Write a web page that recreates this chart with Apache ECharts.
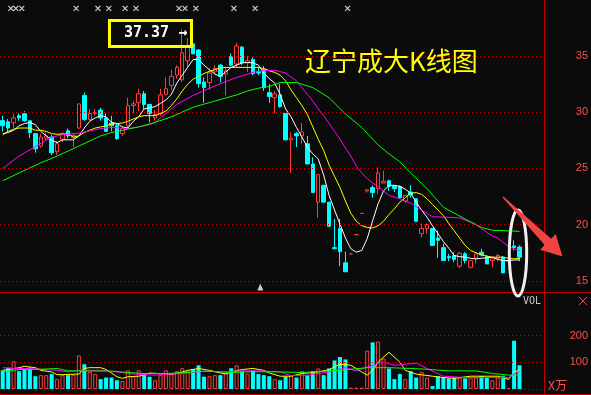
<!DOCTYPE html>
<html>
<head>
<meta charset="utf-8">
<script src="https://cdn.jsdelivr.net/npm/echarts@6/dist/echarts.min.js"></script>
<style>
html,body{margin:0;padding:0;background:#0b0b0b;}
#main{width:591px;height:395px;}
</style>
</head>
<body>
<div id="main"></div>
<script>
// day slots (96 trading days drawn, 4 empty at the right)
const days = [];
for (let i = 0; i < 100; i++) days.push('D' + (i + 1));

// [open, close, low, high]
const kData = [
  [29.26,28.8,28.3,29.7],[29.15,28.6,28.2,29.4],[29.07,29.5,28.6,29.87],[29.7,29.5,29.25,29.9],[29.87,29.25,29.15,30.1],
  [29.25,28.2,27.7,29.25],[28.1,26.75,26.4,28.1],[27.0,27.8,26.85,28.1],[27.7,27.9,27.45,28.2],[27.8,26.4,26.2,28.0],
  [26.5,27.2,26.2,27.45],[27.6,28.1,27.35,28.2],[28.35,27.9,27.7,28.55],[27.75,27.95,26.9,28.1],[28.6,30.75,28.5,30.75],
  [31.5,29.35,29.25,31.75],[29.35,29.9,29.25,30.3],[29.9,30.0,29.7,30.3],[30.2,29.5,29.25,30.4],[29.5,28.3,28.3,29.9],
  [29.05,28.8,28.3,29.7],[28.8,27.65,27.55,29.0],[28.1,28.55,27.9,28.7],[28.8,30.6,28.6,31.3],[30.6,30.75,29.9,31.0],
  [30.85,31.65,30.1,32.1],[31.65,30.7,30.3,31.9],[30.7,29.9,29.1,30.75],[29.5,29.8,29.25,30.2],[29.9,31.55,29.7,32.1],
  [31.6,32.1,31.5,33.1],[32.4,33.2,32.0,33.8],[33.3,34.0,33.0,34.2],[32.9,35.3,32.7,37.37],[34.6,35.9,34.0,36.6],
  [36.1,35.2,35.2,36.6],[35.55,32.55,32.2,35.6],[32.7,32.2,30.85,33.1],[32.65,33.5,32.0,33.9],[33.6,33.9,33.4,34.2],
  [34.2,33.2,32.65,34.3],[33.4,33.7,31.5,34.0],[34.95,34.2,34.1,35.25],[34.3,35.9,34.0,36.2],[35.8,34.4,34.2,35.9],
  [34.4,34.6,33.6,35.0],[34.7,33.45,33.3,34.9],[33.65,33.5,33.3,34.0],[33.8,32.2,31.9,34.1],[31.75,31.4,30.85,32.5],
  [31.3,31.65,29.9,31.9],[31.55,30.5,30.4,32.5],[29.9,27.55,27.5,29.9],[27.55,27.7,24.6,28.2],[28.1,27.9,26.9,28.25],
  [27.9,28.25,27.2,29.05],[27.2,25.4,25.4,27.9],[25.4,22.85,22.85,26.0],[22.0,24.45,20.6,24.45],[23.5,22.0,22.0,23.5],
  [22.0,19.85,19.85,22.0],[17.95,17.85,17.85,20.5],[19.65,17.6,16.3,20.5],[16.6,15.8,15.8,17.6],[17.4,17.4,17.4,17.4],
  [19.1,19.1,19.1,19.1],[21.0,21.0,21.0,21.0],[23.0,23.1,22.85,23.1],[23.3,22.85,22.4,23.5],[23.2,24.6,22.75,25.1],
  [23.7,23.85,23.7,24.8],[23.9,23.4,23.0,24.0],[23.4,23.2,22.9,23.5],[23.4,22.4,22.3,23.5],[22.1,22.6,21.9,22.6],
  [22.9,22.65,22.4,23.5],[22.3,20.3,20.3,22.3],[19.2,19.65,18.85,20.1],[19.65,20.0,19.2,20.1],[19.65,18.15,18.15,19.65],
  [18.8,18.6,17.05,19.45],[17.95,16.8,16.8,18.3],[17.15,17.05,16.75,17.4],[17.25,16.9,16.65,17.55],[16.3,17.45,16.15,17.55],
  [17.4,16.8,16.55,17.55],[16.2,16.8,16.1,16.85],[17.0,17.4,16.55,17.55],[17.55,17.3,17.15,17.85],[17.15,16.5,16.5,17.25],
  [16.8,17.0,16.2,17.05],[17.0,17.25,16.75,17.4],[17.1,15.7,15.7,17.2],[16.7,16.8,16.6,16.9],[18.1,17.95,17.7,18.6],
  [18.0,17.1,16.75,18.15]
];

// volume, 万手
const volumes = [
  70,80,104,67,73,80,48,52,52,56, 37,52,52,54,126,93,64,56,37,43,
  43,33,30,70,48,70,56,46,33,52, 70,56,67,78,68,74,89,46,48,52,
  52,60,78,89,67,58,70,56,52,48, 37,33,46,52,43,67,52,67,77,52,
  77,107,120,111,5,5,5,144,175,178, 114,77,37,56,37,67,43,64,43,11,
  48,43,40,43,43,40,43,43,49,43, 33,43,48,4,181,89
];

// price moving averages
const ma5 = [
  28.1,28.2,28.4,28.8,29.0,29.1,28.9,28.3,27.9,27.5, 27.3,27.55,27.55,27.55,27.9,28.6,29.2,29.5,29.7,29.6,
  29.1,29.0,28.7,28.6,29.2,29.6,30.3,30.4,30.5,30.8, 31.1,31.6,32.6,33.3,34.0,34.7,34.7,34.2,33.8,33.4,
  33.2,33.6,34.0,34.2,34.4,34.45,34.4,34.2,33.5,33.0, 32.6,31.6,30.3,29.6,28.65,27.8,26.9,26.3,25.85,24.4,
  22.6,21.3,20.05,18.8,17.85,17.55,17.7,18.75,20.35,21.85, 23.0,23.5,23.5,23.4,23.15,22.8,22.0,21.3,20.65,19.9,
  19.2,18.5,17.9,17.25,17.15,17.1,17.0,16.95,17.0,17.05, 17.1,16.9,16.8,16.8,16.85,16.85
];
const ma10 = [
  28.0,28.3,28.5,28.6,28.6,28.6,28.4,28.4,28.3,28.1, 28.05,28.05,28.1,27.8,27.9,28.2,28.4,28.6,28.7,28.8,
  28.95,29.0,29.05,29.2,29.4,29.6,29.7,29.7,29.7,29.9, 30.1,30.6,31.2,31.9,32.5,32.95,33.2,33.45,33.65,33.8,
  33.95,34.0,34.0,34.0,34.0,34.0,34.0,34.0,33.9,33.7, 33.55,33.3,32.8,32.0,31.3,30.6,29.8,28.7,27.6,26.6,
  25.3,24.3,23.3,22.1,21.0,20.3,19.9,19.75,19.7,19.9, 20.3,20.9,21.4,22.0,22.4,22.8,22.85,22.7,22.3,21.8,
  21.3,20.8,20.1,19.45,18.8,18.15,17.7,17.5,17.3,17.2, 17.1,17.1,17.1,17.0,16.95,17.0
];
// [day index, value]
const ma20 = [
  [0,25.0],[3,26.1],[6,26.95],[9,27.8],[11,28.0],[14,28.15],[16,28.35],[18,28.55],[20,28.65],[23,28.55],
  [25,28.7],[27,28.9],[28,29.1],[30,29.9],[32,30.7],[35,31.5],[39,32.35],[43,33.1],[46,33.55],[48,33.7],
  [50,33.75],[52,33.5],[54,32.8],[56,31.6],[57,31.0],[58,30.3],[59,29.7],[60,29.0],[61,28.3],[62,27.6],
  [63,26.8],[64,26.1],[65,25.2],[66,24.6],[67,24.1],[68,23.7],[69,23.4],[70,23.0],[71,22.6],[73,22.3],
  [75,21.9],[77,21.3],[79,20.7],[82,20.65],[84,20.6],[86,20.2],[87,20.0],[89,19.3],[90,19.0],[91,18.8],
  [92,18.4],[93,18.05],[94,17.85],[95,17.7]
];
const ma60 = [
  [0,23.9],[3,24.6],[7,25.5],[10,26.1],[14,27.0],[18,27.9],[20,28.2],[23,28.5],[25,28.7],[28,29.1],
  [31,29.6],[35,30.45],[39,31.0],[43,31.55],[45,31.9],[47,32.15],[49,32.3],[51,32.65],[54,32.65],[57,32.2],
  [60,31.3],[63,29.85],[66,28.65],[69,27.1],[71,26.3],[73,25.6],[75,24.6],[78,23.2],[81,21.55],[85,20.5],
  [88,19.75],[90,19.5],[95,19.4]
];

// volume moving averages
const volMa5 = [
  [0,70],[3,80],[4,85],[6,80],[7,70],[9,64],[10,54],[11,54],[14,56],[15,77],[16,80],[18,80],[19,73],[20,60],
  [21,46],[22,40],[23,46],[25,48],[27,60],[30,56],[31,54],[33,64],[34,70],[36,77],[38,70],[40,60],[41,56],
  [42,64],[44,73],[46,77],[48,70],[49,60],[51,48],[53,48],[55,58],[58,64],[60,73],[62,93],[64,89],[66,64],
  [67,52],[68,70],[69,101],[71,138],[73,101],[74,70],[76,56],[79,48],[81,43],[83,40],[86,48],[88,48],[91,48],
  [93,36],[94,64],[95,70]
];
const volMa10 = [
  [0,80],[2,77],[5,77],[7,74],[10,70],[12,64],[14,70],[18,70],[21,64],[24,56],[28,52],[31,56],[34,60],[37,67],
  [41,64],[44,68],[47,68],[51,64],[53,50],[56,52],[60,64],[63,80],[65,68],[67,83],[70,101],[72,89],[76,97],
  [78,77],[81,48],[85,43],[90,43],[93,43],[94,58],[95,65]
];
const volMa20 = [
  [0,64],[3,73],[7,74],[10,77],[12,68],[14,68],[20,67],[23,62],[26,58],[30,58],[34,62],[37,67],[42,62],[46,65],
  [51,64],[55,62],[57,64],[62,70],[67,80],[71,80],[75,77],[78,74],[82,68],[87,68],[90,58],[93,52],[95,52]
];

const priceTicks = [15, 20, 25, 30, 35];
const volTicks = [100, 200];
// event markers along the top (in day units)
const eventMarks = [-0.7, 1.5, 2.4, 3.5, 13.5, 17.5, 19.5, 22.5, 24.5, 32.4, 33.5, 35.5, 42.5, 46.4, 63.4];
const lowFlag = [[47.35, 14.45]];

const BG = '#0b0b0b';
const RED = '#ff3c3c';
const CYAN = '#00ffff';
const GRID_RED = '#c00000';

function isUp(i) {
  const k = kData[i];
  if (k[1] !== k[0]) return k[1] > k[0];
  return i > 0 ? k[1] >= kData[i - 1][1] : true;
}

const volData = volumes.map(function (v, i) {
  return {
    value: v,
    itemStyle: isUp(i)
      ? { color: BG, borderColor: RED, borderWidth: 1 }
      : { color: CYAN, borderColor: CYAN, borderWidth: 0 }
  };
});

const axisText = { color: '#ff4d4d', fontSize: 11, fontFamily: 'Liberation Sans', align: 'right', margin: 44 };
const dotted = { color: GRID_RED, type: [1, 3], width: 1 };

function maLine(name, data, color, xi, yi) {
  return {
    name: name, type: 'line', data: data, xAxisIndex: xi, yAxisIndex: yi,
    showSymbol: false, symbol: 'none', connectNulls: true, silent: true,
    lineStyle: { color: color, width: 1 }
  };
}

const chart = echarts.init(document.getElementById('main'));
chart.setOption({
  animation: false,
  backgroundColor: BG,
  grid: [
    { left: 0, top: 0, width: 544, height: 292 },
    { left: 0, top: 292, width: 544, height: 97 }
  ],
  xAxis: [
    { type: 'category', gridIndex: 0, data: days, boundaryGap: true, show: false },
    { type: 'value', gridIndex: 0, min: -0.5, max: 99.5, show: false },
    { type: 'category', gridIndex: 1, data: days, boundaryGap: true, show: false }
  ],
  yAxis: [
    {
      type: 'value', gridIndex: 0, min: 14, max: 40, position: 'right',
      axisLine: { show: false }, axisTick: { show: false }, splitLine: { show: false },
      axisLabel: Object.assign({ customValues: priceTicks }, axisText)
    },
    {
      type: 'value', gridIndex: 1, min: 0, max: 364, position: 'right',
      axisLine: { show: false }, axisTick: { show: false }, splitLine: { show: false },
      axisLabel: Object.assign({ customValues: volTicks }, axisText)
    }
  ],
  series: [
    {
      type: 'candlestick', data: kData, xAxisIndex: 0, yAxisIndex: 0,
      barWidth: 4,
      itemStyle: { color: BG, color0: CYAN, borderColor: RED, borderColor0: CYAN, borderWidth: 1 },
      markLine: {
        silent: true, symbol: ['none', 'none'], label: { show: false },
        lineStyle: dotted,
        data: priceTicks.map(function (v) { return { yAxis: v }; })
      }
    },
    maLine('MA5', ma5, '#ffffff', 0, 0),
    maLine('MA10', ma10, '#ffff00', 0, 0),
    maLine('MA20', ma20, '#ff00ff', 0, 0),
    maLine('MA60', ma60, '#00ff00', 0, 0),
    {
      type: 'scatter', data: eventMarks.map(function (x) { return [x, 39.25]; }),
      xAxisIndex: 1, yAxisIndex: 0, silent: true,
      symbol: 'path://M0 0L10 10M10 0L0 10', symbolSize: 5,
      itemStyle: { color: 'none', borderColor: '#ffffff', borderWidth: 1.2 }
    },
    {
      type: 'scatter', data: lowFlag, xAxisIndex: 1, yAxisIndex: 0, silent: true,
      symbol: 'triangle', symbolSize: [6, 7], itemStyle: { color: '#ffffff' }
    },
    {
      type: 'bar', data: volData, xAxisIndex: 2, yAxisIndex: 1, barWidth: 4, silent: true,
      markLine: {
        silent: true, symbol: ['none', 'none'], label: { show: false },
        lineStyle: dotted,
        data: [0].concat(volTicks).map(function (v) { return { yAxis: v }; })
      }
    },
    maLine('VMA5', volMa5, '#ffff00', 2, 1),
    maLine('VMA10', volMa10, '#ff00ff', 2, 1),
    maLine('VMA20', volMa20, '#00ff00', 2, 1)
  ],
  graphic: [
    { type: 'line', silent: true, z: 50, shape: { x1: 0, y1: 292.5, x2: 591, y2: 292.5 }, style: { stroke: GRID_RED, lineWidth: 1 } },
    { type: 'line', silent: true, z: 50, shape: { x1: 0, y1: 394.5, x2: 591, y2: 394.5 }, style: { stroke: GRID_RED, lineWidth: 1 } },
    { type: 'line', silent: true, z: 50, shape: { x1: 544.5, y1: 0, x2: 544.5, y2: 395 }, style: { stroke: GRID_RED, lineWidth: 1 } },
    { type: 'rect', silent: true, z: 60, shape: { x: 109.5, y: 20.5, width: 82, height: 26 }, style: { fill: 'none', stroke: '#ffff00', lineWidth: 3 } },
    { type: 'text', silent: true, z: 60, x: 124, y: 33, style: { text: '37.37 →', fill: '#ffffff', font: 'bold 15px "DejaVu Sans Mono"', verticalAlign: 'middle' } },
    { type: 'text', silent: true, z: 60, x: 305, y: 61, style: { text: '辽宁成大K线图', fill: '#ffff00', font: '26px "Noto Sans CJK SC"', verticalAlign: 'middle' } },
    { type: 'ellipse', silent: true, z: 60, shape: { cx: 518, cy: 253, rx: 8.7, ry: 43 }, style: { fill: 'none', stroke: '#f0f0f0', lineWidth: 3 } },
    { type: 'polygon', silent: true, z: 60, shape: { points: [[502.6, 197.4], [544.7, 245.1], [540.1, 249.7], [562.5, 256.5], [555.7, 234.1], [551.1, 238.7], [503.4, 196.6]] }, style: { fill: '#f04444' } },
    { type: 'text', silent: true, z: 60, x: 523, y: 301, style: { text: 'VOL', fill: '#c8c8c8', font: '10px "DejaVu Sans Mono"', verticalAlign: 'middle' } },
    { type: 'line', silent: true, z: 60, shape: { x1: 579, y1: 297, x2: 587, y2: 305 }, style: { stroke: '#ff3c3c', lineWidth: 1 } },
    { type: 'line', silent: true, z: 60, shape: { x1: 587, y1: 297, x2: 579, y2: 305 }, style: { stroke: '#ff3c3c', lineWidth: 1 } },
    { type: 'text', silent: true, z: 60, x: 548, y: 385, style: { text: 'X万', fill: '#ff4d4d', font: '12px "Noto Sans CJK SC"', verticalAlign: 'middle' } }
  ]
});
</script>
</body>
</html>
